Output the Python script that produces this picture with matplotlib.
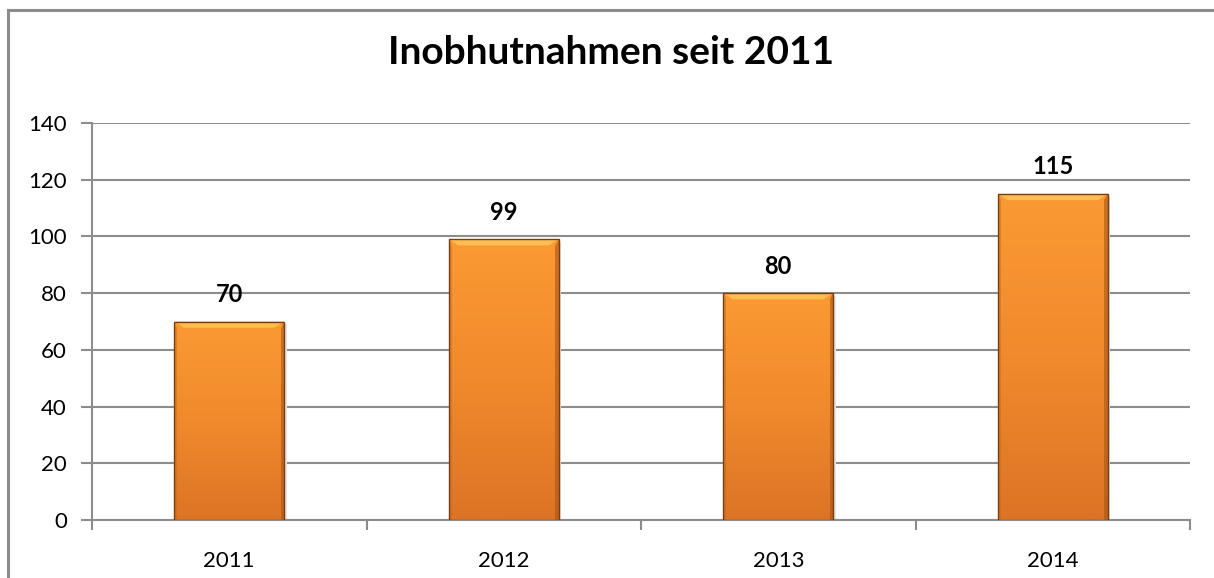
import numpy as np
import matplotlib.pyplot as plt
from matplotlib.patches import Rectangle, Polygon
from matplotlib.colors import LinearSegmentedColormap

years = ["2011", "2012", "2013", "2014"]
values = [70, 99, 80, 115]
title = "Inobhutnahmen seit 2011"

plt.rcParams['font.family'] = ['Lato', 'DejaVu Sans']

W, H = 1214, 578
fig = plt.figure(figsize=(W / 100, H / 100), dpi=100)

# outer chart frame (only left and top visible in the crop)
fig.add_artist(plt.Line2D([8 / W, 8 / W], [0, 1 - 10 / H], color='#8c8c8c', lw=2.2))
fig.add_artist(plt.Line2D([8 / W, 1], [1 - 10 / H, 1 - 10 / H], color='#8c8c8c', lw=2.2))

left, right, top, bottom = 92, 1190, 123, 520
ax = fig.add_axes([left / W, 1 - bottom / H, (right - left) / W, (bottom - top) / H])

x = np.arange(len(years))
ax.set_yticks(range(0, 141, 20))
ax.set_xticks(x)
ax.set_xticklabels(years)
ax.set_xticks(np.arange(-0.5, len(years), 1), minor=True)

for s in ['top', 'right']:
    ax.spines[s].set_visible(False)
for s in ['left', 'bottom']:
    ax.spines[s].set_color('#8c8c8c')
    ax.spines[s].set_linewidth(1.5)

ax.grid(axis='y', color='#8c8c8c', lw=1.5)
ax.set_axisbelow(True)
ax.tick_params(axis='y', length=8, width=1.5, color='#8c8c8c', labelsize=16, pad=10)
ax.tick_params(axis='x', which='major', length=0, labelsize=16, pad=22)
ax.tick_params(axis='x', which='minor', length=7, width=1.5, color='#8c8c8c')

cmap = LinearSegmentedColormap.from_list('bar', ['#dc7425', '#f08a2c', '#fb9a33'])
grad = np.linspace(0, 1, 256).reshape(-1, 1)
width = 0.4
bev_x = 0.035
bev_y = 2.2

for xi, v in zip(x, values):
    x0, x1 = xi - width / 2, xi + width / 2
    # shadow
    ax.add_patch(Rectangle((x1, 0), 0.01, v - 1, color='#e3e3e3', zorder=2, lw=0))
    im = ax.imshow(grad, cmap=cmap, aspect='auto', origin='lower',
                   extent=(x0, x1, 0, v), zorder=3)
    rect = Rectangle((x0, 0), width, v, fill=False, ec='#7a3e10', lw=1.0, zorder=4)
    ax.add_patch(rect)
    im.set_clip_path(rect)
    # bevel: light top trapezoid, darker sides
    ax.add_patch(Polygon([(x0, v), (x1, v), (x1 - bev_x, v - bev_y), (x0 + bev_x, v - bev_y)],
                         closed=True, color='#fdbd55', lw=0, zorder=3.5))
    ax.add_patch(Polygon([(x1, v), (x1, 0), (x1 - 0.012, 0), (x1 - 0.012, v - bev_y)],
                         closed=True, color='#a8561a', lw=0, zorder=3.5, alpha=0.6))
    ax.add_patch(Polygon([(x0, v), (x0, 0), (x0 + 0.01, 0), (x0 + 0.01, v - bev_y)],
                         closed=True, color='#c86a22', lw=0, zorder=3.5, alpha=0.5))
    ax.text(xi, v + 5.5, str(v), ha='center', va='bottom', fontsize=17, fontweight='bold', zorder=5)

ax.set_xlim(-0.5, len(years) - 0.5)
ax.set_ylim(0, 140)

fig.text(611 / W, 1 - 52 / H, title, ha='center', va='center', fontsize=28, fontweight='bold')

fig.savefig('out.png', dpi=100)
